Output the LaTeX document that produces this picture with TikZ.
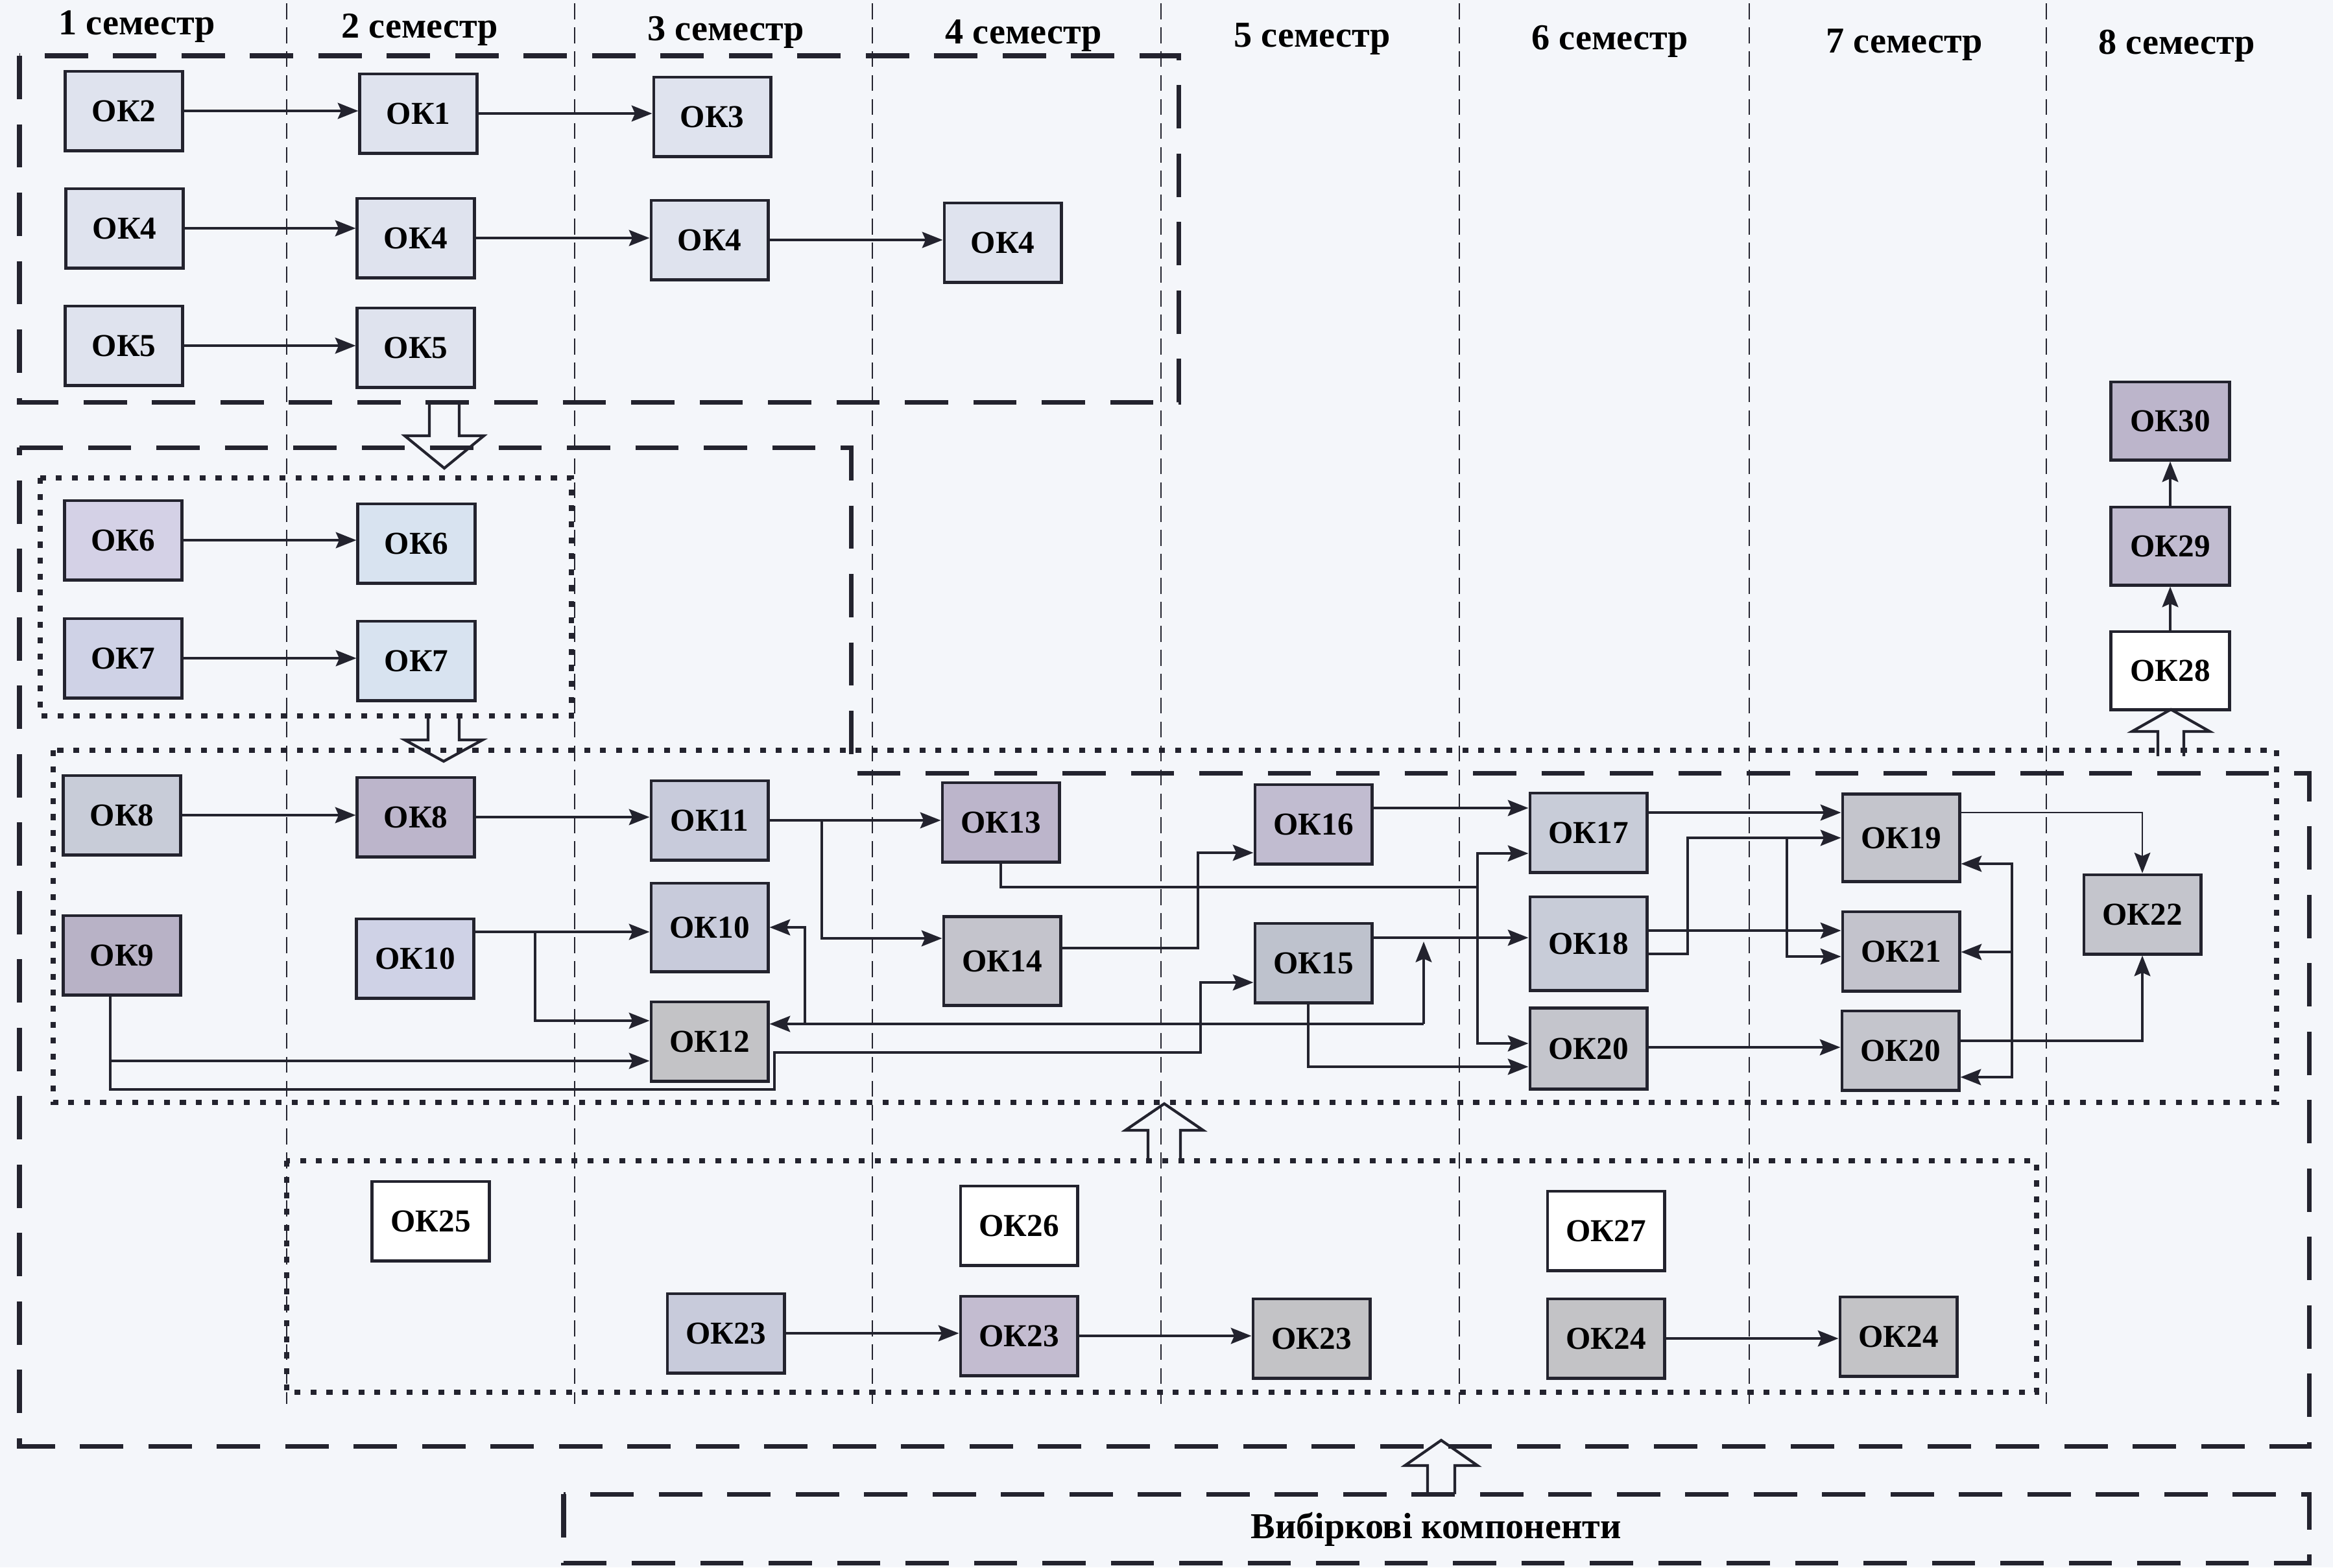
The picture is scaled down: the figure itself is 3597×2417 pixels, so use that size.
\documentclass[tikz,border=0pt]{standalone}
\usepackage{fontspec}
\setmainfont{Liberation Serif}
\usetikzlibrary{arrows.meta}
\definecolor{bgc}{HTML}{F4F6FA}
\definecolor{linec}{HTML}{23232E}
\definecolor{cA}{HTML}{DFE3EE}
\definecolor{cB}{HTML}{D8E3F0}
\definecolor{cL}{HTML}{D4D1E6}
\definecolor{cL2}{HTML}{CFD2E6}
\definecolor{cM}{HTML}{C8CBDB}
\definecolor{cP}{HTML}{BCB5CB}
\definecolor{cP2}{HTML}{C1BCD0}
\definecolor{cP3}{HTML}{B8B2C6}
\definecolor{cG}{HTML}{C4C5CC}
\definecolor{cG2}{HTML}{C3C3C6}
\definecolor{cS}{HTML}{C8CCD8}
\tikzset{
  ok/.style={draw=linec, line width=1.4pt, minimum width=1.8cm, minimum height=1.22cm,
    inner sep=0pt, font=\bfseries\fontsize{14}{15}\selectfont},
  arr/.style={draw=linec, line width=1.2pt, -{Stealth[length=9pt,width=7pt,inset=1.5pt]}},
  conn/.style={draw=linec, line width=1.2pt},
  semline/.style={draw=linec, line width=0.6pt, dash pattern=on 7pt off 3.5pt},
  bigdash/.style={draw=linec, line width=2pt, dash pattern=on 19pt off 11pt},
  dotbox/.style={draw=linec, line width=2.3pt, dash pattern=on 2.6pt off 4.4pt},
  hollow/.style={draw=linec, line width=1.2pt, line join=miter},
  semhead/.style={font=\bfseries\fontsize{16}{18}\selectfont, inner sep=0pt},
}
\newcommand\HArrow[6]{% cx, start, base, tip, shaft half, head half
  \draw[hollow] ({#1-#5},#2) -- ({#1-#5},#3) -- ({#1-#6},#3) -- (#1,#4) -- ({#1+#6},#3) -- ({#1+#5},#3) -- ({#1+#5},#2);}
\begin{document}
\begin{tikzpicture}[x=0.01cm, y=-0.01cm]
\fill[bgc] (0,0) rectangle (3597,2417);
\useasboundingbox (0,0) rectangle (3597,2417);

% semester headers
\node[semhead] (h1) at (211,41) {1 семестр};
\node[semhead] (h2) at (647,46) {2 семестр};
\node[semhead] (h3) at (1119,50) {3 семестр};
\node[semhead] (h4) at (1578,55) {4 семестр};
\node[semhead] (h5) at (2023,60) {5 семестр};
\node[semhead] (h6) at (2482,64) {6 семестр};
\node[semhead] (h7) at (2936,69) {7 семестр};
\node[semhead] (h8) at (3356,71) {8 семестр};

% semester dividers
\foreach \xx in {442,886,1345,1790,2250,2697,3155}
  \draw[semline] (\xx,5) -- (\xx,2165);

% block borders
\draw[bigdash] (30,86) rectangle (1817,620);
\draw[bigdash] (30,690) -- (1312,690) -- (1312,1192) -- (3560,1192) -- (3560,2230) -- (30,2230) -- cycle;
\draw[dotbox] (62,737) rectangle (881,1104);
\draw[dotbox] (82,1157) rectangle (3510,1700);
\draw[dotbox] (442,1790) rectangle (3140,2147);
\draw[bigdash] (869,2304) rectangle (3560,2410);
\node[semhead] (elect) at (2214,2358) {Вибіркові компоненти};

% block 1
\node[ok, fill=cA] (a2) at (191,171) {ОК2};
\node[ok, fill=cA] (a1) at (645,175) {ОК1};
\node[ok, fill=cA] (a3) at (1098,180) {ОК3};
\node[ok, fill=cA] (a4a) at (192,352) {ОК4};
\node[ok, fill=cA] (a4b) at (641,367) {ОК4};
\node[ok, fill=cA] (a4c) at (1094,370) {ОК4};
\node[ok, fill=cA] (a4d) at (1546,374) {ОК4};
\node[ok, fill=cA] (a5a) at (191,533) {ОК5};
\node[ok, fill=cA] (a5b) at (641,536) {ОК5};

% block A
\node[ok, fill=cL] (b6a) at (190,833) {ОК6};
\node[ok, fill=cB] (b6b) at (642,838) {ОК6};
\node[ok, fill=cL2] (b7a) at (190,1015) {ОК7};
\node[ok, fill=cB] (b7b) at (642,1019) {ОК7};

% block B
\node[ok, fill=cS] (c8a) at (188,1257) {ОК8};
\node[ok, fill=cP] (c8b) at (641,1260) {ОК8};
\node[ok, fill=cM] (c11) at (1094,1265) {ОК11};
\node[ok, fill=cP] (c13) at (1543,1268) {ОК13};
\node[ok, fill=cP2] (c16) at (2025,1271) {ОК16};
\node[ok, fill=cS] (c17) at (2449,1284) {ОК17};
\node[ok, fill=cG, minimum height=1.35cm] (c19) at (2931,1292) {ОК19};
\node[ok, fill=cG] (c22) at (3303,1410) {ОК22};
\node[ok, fill=cP3] (c9) at (188,1473) {ОК9};
\node[ok, fill=cL2] (c10a) at (640,1478) {ОК10};
\node[ok, fill=cM, minimum height=1.36cm] (c10b) at (1094,1430) {ОК10};
\node[ok, fill=cG!95!cP, minimum height=1.37cm] (c14) at (1545,1482) {ОК14};
\node[ok, fill=cS!95!black] (c15) at (2025,1485) {ОК15};
\node[ok, fill=cS, minimum height=1.44cm] (c18) at (2449,1455) {ОК18};
\node[ok, fill=cG!85!cP] (c21) at (2931,1467) {ОК21};
\node[ok, fill=cG2] (c12) at (1094,1606) {ОК12};
\node[ok, fill=cG, minimum height=1.25cm] (c20a) at (2449,1617) {ОК20};
\node[ok, fill=cG] (c20b) at (2930,1620) {ОК20};

% semester 8 column
\node[ok, fill=cP, minimum width=1.83cm, minimum height=1.2cm] (d30) at (3346,649) {ОК30};
\node[ok, fill=cP2, minimum width=1.83cm, minimum height=1.2cm] (d29) at (3346,842) {ОК29};
\node[ok, fill=white, minimum width=1.83cm, minimum height=1.2cm] (d28) at (3346,1034) {ОК28};

% block C
\node[ok, fill=white] (e25) at (664,1883) {ОК25};
\node[ok, fill=white] (e26) at (1571,1890) {ОК26};
\node[ok, fill=white] (e27) at (2476,1898) {ОК27};
\node[ok, fill=cM] (e23a) at (1119,2056) {ОК23};
\node[ok, fill=cP!90!white] (e23b) at (1571,2060) {ОК23};
\node[ok, fill=cG2] (e23c) at (2022,2064) {ОК23};
\node[ok, fill=cG2] (e24a) at (2476,2064) {ОК24};
\node[ok, fill=cG2] (e24b) at (2927,2061) {ОК24};

% connectors block 1
\draw[arr] (a2.east) -- (a2.east -| a1.west);
\draw[arr] (a1.east) -- (a1.east -| a3.west);
\draw[arr] (a4a.east) -- (a4a.east -| a4b.west);
\draw[arr] (a4b.east) -- (a4b.east -| a4c.west);
\draw[arr] (a4c.east) -- (a4c.east -| a4d.west);
\draw[arr] (a5a.east) -- (a5a.east -| a5b.west);
% block A
\draw[arr] (b6a.east) -- (b6a.east -| b6b.west);
\draw[arr] (b7a.east) -- (b7a.east -| b7b.west);
% block C
\draw[arr] (e23a.east) -- (e23a.east -| e23b.west);
\draw[arr] (e23b.east) -- (e23b.east -| e23c.west);
\draw[arr] (e24a.east) -- (e24a.east -| e24b.west);
% column 8
\draw[arr] (d28.north) -- (d29.south);
\draw[arr] (d29.north) -- (d30.south);

% block B
\draw[arr] (c8a.east) -- (c8a.east -| c8b.west);
\draw[arr] (c8b.east) -- (c8b.east -| c11.west);
\draw[arr] (c11.east) -- (c11.east -| c13.west);
\coordinate (j1) at (1267,1265);
\draw[arr] (j1) |- (c14.west |- 0,1447);
\draw[arr] (c10a.east |- 0,1437) -- (c10b.west |- 0,1437);
\coordinate (j2) at (825,1437);
\draw[arr] (j2) |- (c12.west |- 0,1574);
\coordinate (j9) at (170,1636);
\draw[arr] (c9.south -| j9) |- (c12.west |- j9);
\draw[arr] (j9) -- (170,1680) -| (1194,1623) -| (1851,1515) -- (c15.west |- 0,1515);
\coordinate (j4) at (2195,1579);
\coordinate (j5) at (1241,1579);
\draw[arr] (j4) -- (2195,1452);
\draw[arr] (j4) -- (c12.east |- j4);
\draw[arr] (j5) |- (c10b.east);
\draw[arr] (c14.east |- 0,1462) -| (1847,1315) -- (c16.west |- 0,1315);
\coordinate (j6) at (2278,1368);
\draw[conn] (c13.south) |- (j6);
\draw[arr] (j6) |- (c17.west |- 0,1316);
\draw[arr] (j6) |- (c20a.west |- 0,1609);
\draw[arr] (c16.east |- 0,1246) -- (c17.west |- 0,1246);
\draw[arr] (c15.east |- 0,1446) -- (c18.west |- 0,1446);
\draw[arr] (c15.south -| 2017,0) |- (c20a.west |- 0,1645);
\draw[arr] (c17.east |- 0,1253) -- (c19.west |- 0,1253);
\coordinate (j7) at (2755,1292);
\draw[arr] (c18.east |- 0,1471) -| (2602,1292) -- (c19.west |- j7);
\draw[arr] (c18.east |- 0,1435) -- (c21.west |- 0,1435);
\draw[arr] (j7) |- (c21.west |- 0,1475);
\draw[arr] (c20a.east |- 0,1615) -- (c20b.west |- 0,1615);
\draw[arr] (c20b.east |- 0,1605) -| (c22.south);
\draw[arr, line width=0.8pt] (c19.east |- 0,1253) -| (c22.north);
\coordinate (j8) at (3102,1605);
\draw[arr] (j8) |- (c19.east |- 0,1332);
\draw[arr] (3102,1468) -- (c21.east |- 0,1468);
\draw[arr] (j8) |- (c20b.east |- 0,1661);

% hollow arrows
\HArrow{685}{620}{672}{722}{23}{61}
\HArrow{684}{1104}{1141}{1174}{24}{60}
\HArrow{1795}{1790}{1743}{1702}{25}{60}
\HArrow{3347}{1166}{1128}{1094}{20}{60}
\HArrow{2222}{2304}{2260}{2221}{21}{56}
\end{tikzpicture}
\end{document}
